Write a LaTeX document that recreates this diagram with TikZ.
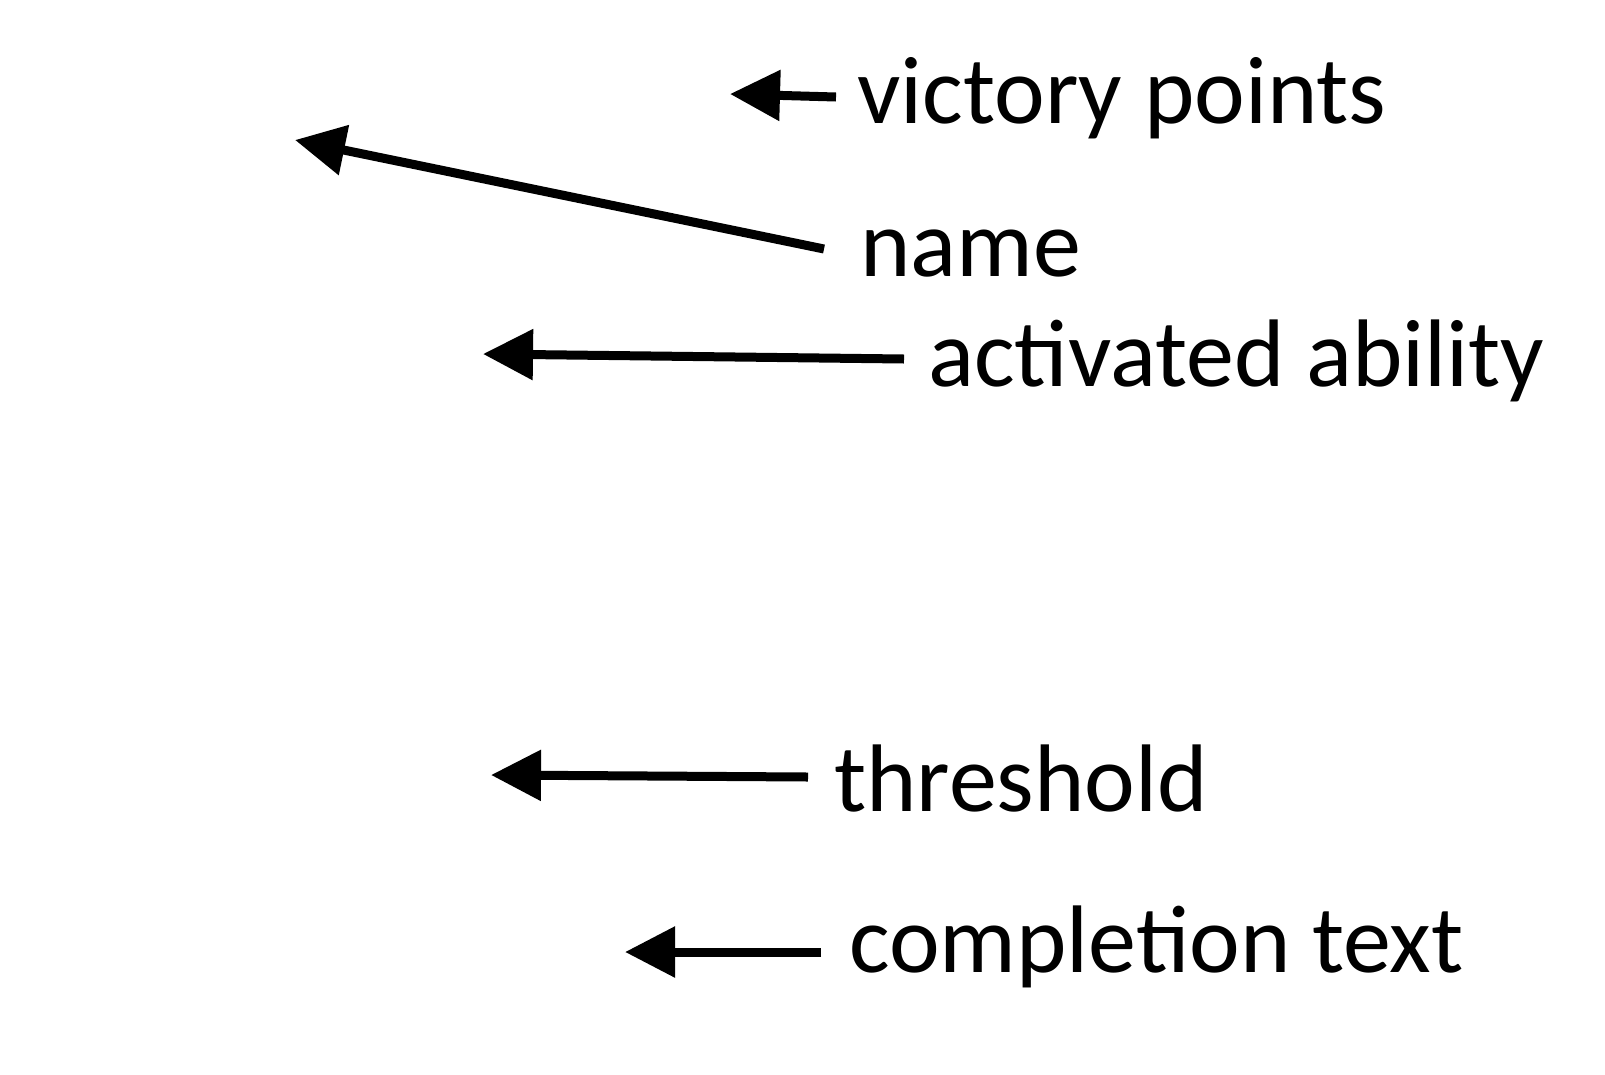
\documentclass[tikz,border=0pt]{standalone}
\usepackage{fontspec}
\setmainfont{Carlito}
\usetikzlibrary{arrows.meta}
\begin{document}
\begin{tikzpicture}[x=1pt,y=-1pt,
  lbl/.style={anchor=base west,inner sep=0pt,font=\fontsize{96}{114}\selectfont},
  arr/.style={line width=9pt,-{Triangle[length=50pt,width=49pt]}}]
\useasboundingbox (0,0) rectangle (1605,1074);
\node[lbl] (vp) at (857,123) {victory points};
\node[lbl] (nm) at (860,276) {name};
\node[lbl] (act) at (928,386) {activated ability};
\node[lbl] (thr) at (834,811) {threshold};
\node[lbl] (comp) at (849,972) {completion text};
\coordinate (vptip) at (730,94);
\coordinate (nmtip) at (295,140);
\coordinate (acttip) at (483,354);
\coordinate (thrtip) at (491,775);
\coordinate (comptip) at (625,952);
\draw[arr] ([shift={(-21,-26)}]vp.base west) -- (vptip);
\draw[arr] ([shift={(-36,-27)}]nm.base west) -- (nmtip);
\draw[arr] ([shift={(-24,-27)}]act.base west) -- (acttip);
\draw[arr] ([shift={(-26,-34)}]thr.base west) -- (thrtip);
\draw[arr] ([shift={(-28,-20)}]comp.base west) -- (comptip);
\end{tikzpicture}
\end{document}
